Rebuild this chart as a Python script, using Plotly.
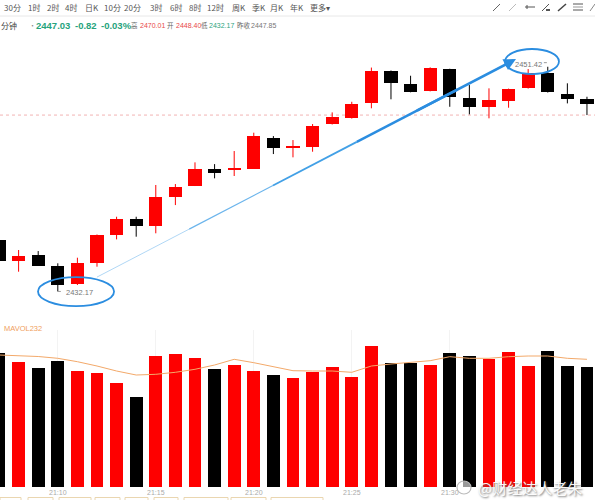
import plotly.graph_objects as go

W, H = 595, 500
FONT = "Noto Sans CJK SC"
NUM = "Liberation Sans, Arial, sans-serif"
RED = "#fe0000"
BLACK = "#000000"

# one candle per minute, the first one is cut by the left edge
times = ["21:07", "21:08", "21:09", "21:10", "21:11", "21:12", "21:13", "21:14",
         "21:15", "21:16", "21:17", "21:18", "21:19", "21:20", "21:21", "21:22",
         "21:23", "21:24", "21:25", "21:26", "21:27", "21:28", "21:29", "21:30",
         "21:31", "21:32", "21:33", "21:34", "21:35", "21:36", "21:37"]
opens = [2436.57, 2434.75, 2435.29, 2434.37, 2432.78, 2434.58, 2437.00, 2438.37,
         2437.80, 2440.23, 2441.23, 2442.63, 2442.63, 2442.68, 2445.29, 2444.52,
         2444.52, 2446.49, 2447.03, 2448.31, 2451.08, 2449.94, 2449.34, 2451.22,
         2448.76, 2447.99, 2448.51, 2449.57, 2450.85, 2449.08, 2448.63]
highs = [2436.80, 2435.72, 2435.63, 2434.58, 2435.06, 2437.05, 2438.57, 2438.57,
         2441.29, 2441.37, 2443.23, 2443.08, 2444.20, 2445.77, 2445.48, 2445.14,
         2446.51, 2447.51, 2448.42, 2451.35, 2451.10, 2450.65, 2451.37, 2451.25,
         2449.85, 2449.57, 2449.55, 2451.22, 2451.42, 2450.00, 2448.85]
lows = [2434.60, 2433.86, 2434.35, 2432.17, 2432.72, 2434.29, 2436.63, 2436.86,
        2437.15, 2439.57, 2441.20, 2441.86, 2442.06, 2442.66, 2443.94, 2443.66,
        2444.14, 2446.47, 2446.98, 2447.86, 2448.63, 2449.23, 2449.31, 2447.99,
        2447.34, 2447.00, 2447.91, 2449.55, 2449.21, 2448.28, 2447.28]
closes = [2434.78, 2435.20, 2434.37, 2432.72, 2434.58, 2436.98, 2438.37, 2437.77,
          2440.23, 2441.14, 2442.63, 2442.34, 2442.77, 2445.48, 2444.46, 2444.63,
          2446.34, 2447.09, 2448.25, 2451.05, 2450.00, 2449.28, 2451.28, 2448.80,
          2447.99, 2448.54, 2449.51, 2450.85, 2449.23, 2448.65, 2448.20]
volume = [13430, 12530, 11870, 12600, 11630, 11370, 10430, 9030, 13100, 13300,
          12870, 11770, 12230, 11630, 11170, 10870, 11530, 12000, 10970, 14100,
          12430, 12370, 12200, 13430, 13100, 12770, 13470, 12100, 13570, 12130, 12030]
mavol = [13200, 13150, 13050, 12870, 12530, 12100, 11600, 11200, 11270, 11470,
         11770, 12200, 12770, 12430, 12030, 11630, 11600, 11600, 11470, 12100,
         12300, 12430, 12630, 13030, 12870, 12870, 13030, 13100, 13100, 12870, 12770]
tick_times = ["21:10", "21:15", "21:20", "21:25", "21:30"]
low_price, low_time = 2432.17, "21:10"
high_price, high_time = 2451.42, "21:35"
dotted_level = 2447.28

up = [c >= o for o, c in zip(opens, closes)]

fig = go.Figure()

# wicks
for flag, col in ((True, RED), (False, BLACK)):
    wx, wy = [], []
    for t, h, l, u in zip(times, highs, lows, up):
        if u == flag:
            wx += [t, t, None]
            wy += [l, h, None]
    fig.add_trace(go.Scatter(x=wx, y=wy, mode="lines", line=dict(color=col, width=1),
                             xaxis="x", yaxis="y", hoverinfo="skip"))

# bodies
for flag, col in ((True, RED), (False, BLACK)):
    bx, bb, bh = [], [], []
    for t, o, c, u in zip(times, opens, closes, up):
        if u == flag:
            bx.append(t)
            bb.append(min(o, c))
            bh.append(max(abs(c - o), 0.1))
    fig.add_trace(go.Bar(x=bx, y=bh, base=bb, width=0.68, marker=dict(color=col, line_width=0),
                         xaxis="x", yaxis="y"))

# volume
fig.add_trace(go.Bar(x=times, y=volume, width=0.66,
                     marker=dict(color=[RED if u else BLACK for u in up], line_width=0),
                     xaxis="x2", yaxis="y2"))
fig.add_trace(go.Scatter(x=times, y=mavol, mode="lines", line=dict(color="#f3a96a", width=1),
                         xaxis="x2", yaxis="y2", hoverinfo="skip"))

ann = []
shapes = []


def txt(s, x, y, size=8, color="#666", anchor="left", bold=False, family=FONT):
    ann.append(dict(text=f"<b>{s}</b>" if bold else s, x=x / W, y=1 - y / H,
                    xref="paper", yref="paper", xanchor=anchor, yanchor="middle",
                    showarrow=False, font=dict(size=size, color=color, family=family)))


def pline(x0, y0, x1, y1, color="#666", width=1):
    shapes.append(dict(type="line", xref="paper", yref="paper", x0=x0 / W, y0=1 - y0 / H,
                       x1=x1 / W, y1=1 - y1 / H, line=dict(color=color, width=width)))


# top toolbar
for s, x in [("30分", 2), ("1时", 26), ("2时", 45), ("4时", 63), ("日K", 83), ("10分", 102),
             ("20分", 122), ("3时", 148), ("6时", 168), ("8时", 187), ("12时", 205),
             ("周K", 230), ("季K", 250), ("月K", 268), ("年K", 288), ("更多▾", 308)]:
    txt(s, x, 7, size=8, color="#555")
pline(493, 11, 500, 4, "#666")
pline(509, 11, 516, 4, "#bbb")
pline(525, 7, 535, 7, "#555")
pline(527, 5, 527, 9, "#555")
pline(542, 11, 549, 4, "#555")
pline(546, 10, 550, 10, "#555", 2)
pline(558, 11, 566, 4, "#444", 1.5)
pline(573, 4, 583, 4, "#555")
pline(573, 7, 583, 7, "#999")
pline(573, 10, 583, 10, "#555")
pline(590, 11, 595, 4, "#888")
pline(0, 16, W, 16, "#e8e8e8")

# quote line
txt("分钟", -1, 25, size=8, color="#444")
txt("•", 27, 25, size=7, color="#888")
txt("2447.03", 34, 25, size=9.5, color="#26a37c", bold=True, family=NUM)
txt("-0.82", 73, 25, size=9.5, color="#26a37c", bold=True, family=NUM)
txt("-0.03%", 99, 25, size=9.5, color="#26a37c", bold=True, family=NUM)
txt("高", 134, 25, size=6.5, color="#666", anchor="center")
txt("2470.01", 138, 25, size=7, color="#e84848", family=NUM)
txt("开", 170, 25, size=6.5, color="#666", anchor="center")
txt("2448.40", 174, 25, size=7, color="#e84848", family=NUM)
txt("低", 204, 25, size=6.5, color="#666", anchor="center")
txt("2432.17", 207, 25, size=7, color="#2ea37e", family=NUM)
txt("昨收", 235, 25, size=6.5, color="#666")
txt("2447.85", 249, 25, size=7, color="#777", family=NUM)

txt("MAVOL232", 2, 328, size=7.5, color="#f0a060", family=NUM)

# dotted price line
shapes.append(dict(type="line", xref="paper", x0=0, x1=1, yref="y", y0=dotted_level, y1=dotted_level,
                   line=dict(color="#f2b4b4", width=1, dash="dot"), layer="below"))

# low / high labels
ann.append(dict(text="2432.17", x=times.index(low_time) + 0.3, y=low_price - 0.08, xref="x", yref="y",
                xanchor="left", yanchor="middle", showarrow=False,
                font=dict(size=7.5, color="#777", family=NUM)))
ann.append(dict(text="2451.42", x=times.index(high_time) - 0.2, y=high_price + 0.22, xref="x", yref="y",
                xanchor="right", yanchor="middle", showarrow=False,
                font=dict(size=7.5, color="#777", family=NUM)))
shapes.append(dict(type="line", xref="x", yref="y", x0=times.index(low_time), x1=times.index(low_time) + 0.25,
                   y0=low_price, y1=low_price, line=dict(color="#999", width=1, dash="dot")))
shapes.append(dict(type="line", xref="x", yref="y", x0=times.index(high_time) - 0.2, x1=times.index(high_time),
                   y0=high_price + 0.35, y1=high_price + 0.35, line=dict(color="#999", width=1, dash="dot")))

# hand drawn blue marks
BLUE = "#2b8de0"
shapes.append(dict(type="circle", xref="x", yref="y", x0=1.99, x1=5.87, y0=2430.92, y1=2433.40,
                   line=dict(color=BLUE, width=1.8)))
shapes.append(dict(type="circle", xref="x", yref="y", x0=25.82, x1=28.57, y0=2450.79, y1=2452.94,
                   line=dict(color=BLUE, width=1.8)))
sx, sy, ex, ey = 5.0, 2433.40, 26.38, 2452.08


def lerp(t):
    return sx + (ex - sx) * t, sy + (ey - sy) * t


# the stroke gets thicker towards the head
for t0, t1, w, c in [(0.0, 0.22, 0.8, "#9ccdf2"), (0.22, 0.42, 1.2, "#6cb5ec"),
                     (0.42, 0.62, 1.8, "#42a0e6"), (0.62, 0.86, 2.4, BLUE)]:
    (x0, y0), (x1, y1) = lerp(t0), lerp(t1)
    shapes.append(dict(type="line", xref="x", yref="y", x0=x0, y0=y0, x1=x1, y1=y1,
                       line=dict(color=c, width=w)))
ax0, ay0 = lerp(0.76)
ann.append(dict(x=ex, y=ey, ax=ax0, ay=ay0, xref="x", yref="y", axref="x", ayref="y", text="",
                showarrow=True, arrowhead=2, arrowsize=0.9, arrowwidth=2.7, arrowcolor=BLUE))

# watermark
shapes.append(dict(type="circle", xref="paper", yref="paper", x0=457 / W, x1=471 / W,
                   y0=1 - 494 / H, y1=1 - 481 / H, line=dict(color="#bbb", width=1.2),
                   fillcolor="rgba(255,255,255,0.6)"))
txt("@财经达人老朱", 476, 487, size=15, color="rgba(255,255,255,0.95)")
ann[-1]["font"]["shadow"] = "1px 1px 2px #666"

# bottom buttons (cut off)
for x0, x1 in [(0, 21), (28, 53), (59, 91), (95, 120), (125, 148), (154, 178),
               (184, 228), (231, 266), (271, 323)]:
    shapes.append(dict(type="rect", xref="paper", yref="paper", x0=x0 / W, x1=x1 / W,
                       y0=1 - 497.5 / H, y1=-0.02, line=dict(color="#ead6b0", width=1)))

xr = [0.051, 30.41]
fig.update_layout(
    width=W, height=H, margin=dict(l=0, r=0, t=0, b=0, autoexpand=False),
    paper_bgcolor="white", plot_bgcolor="white",
    showlegend=False, barmode="overlay", bargap=0,
    annotations=ann, shapes=shapes,
    xaxis=dict(domain=[0, 1], anchor="y", type="category", categoryorder="array",
               categoryarray=times, range=xr, autorange=False, showticklabels=False,
               showgrid=False, zeroline=False, fixedrange=True, automargin=False),
    yaxis=dict(domain=[0.38, 0.93], range=[2430.58, 2454.14], autorange=False,
               visible=False, fixedrange=True, automargin=False),
    xaxis2=dict(domain=[0, 1], anchor="y2", type="category", categoryorder="array",
                categoryarray=times, range=xr, autorange=False,
                tickvals=tick_times, ticktext=tick_times, ticks="", ticklabelstandoff=0,
                tickfont=dict(size=7, color="#aaa", family=NUM), showgrid=True,
                gridcolor="#f3f3f3", zeroline=False, showline=False, automargin=False,
                fixedrange=True),
    yaxis2=dict(domain=[0.026, 0.34], range=[0, 15700], autorange=False, visible=False,
                fixedrange=True, automargin=False),
)

# the page has a default 8px body margin; drop it so the figure sits at the window corner
fig.write_html("out.html", config={"displayModeBar": False},
               post_script="document.body.style.margin='0';")
